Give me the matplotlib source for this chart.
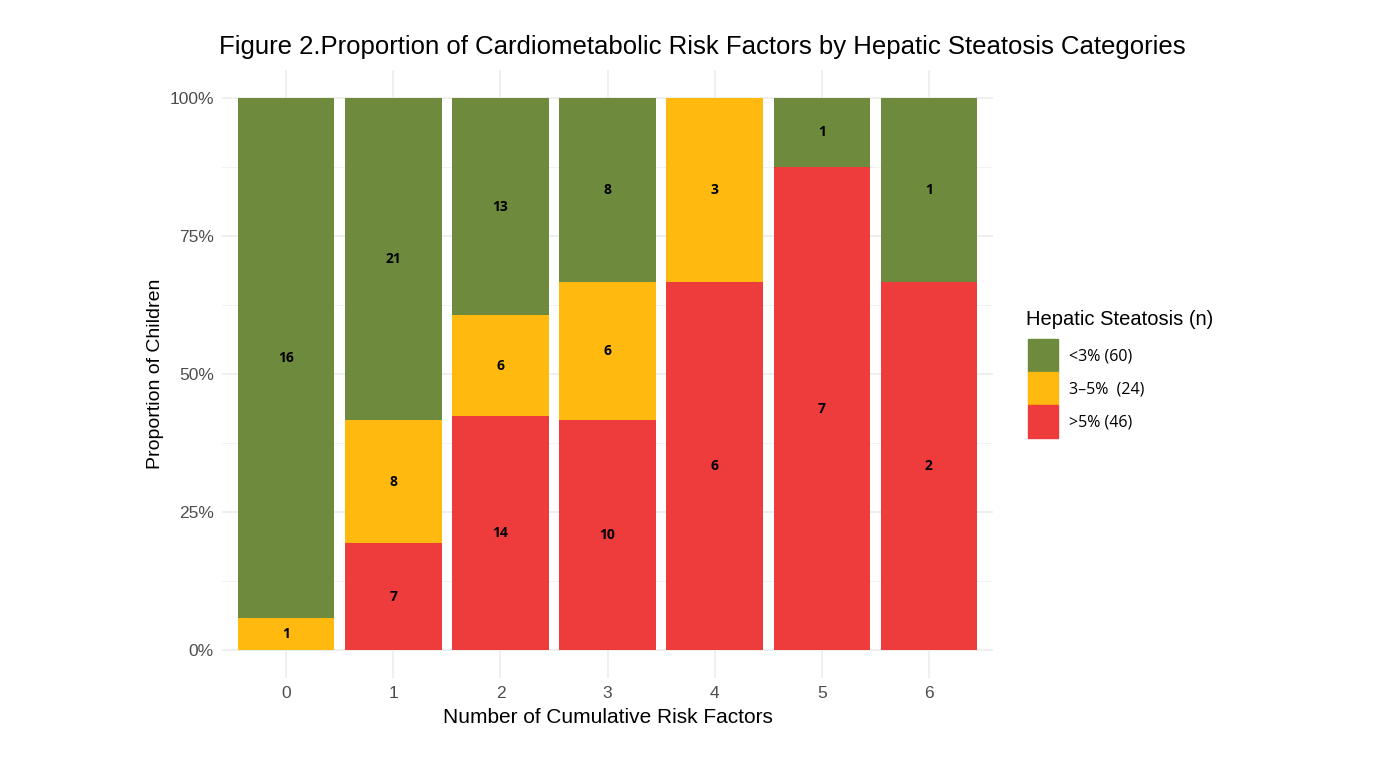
import numpy as np
import matplotlib.pyplot as plt
from matplotlib.patches import Patch
from matplotlib.ticker import MultipleLocator, FuncFormatter

# counts per number of cumulative risk factors
risk_factors = ["0", "1", "2", "3", "4", "5", "6"]
low = [16, 21, 13, 8, 0, 1, 1]      # <3%
mid = [1, 8, 6, 6, 3, 0, 0]         # 3-5%
high = [0, 7, 14, 10, 6, 7, 2]      # >5%

series = [high, mid, low]  # stacked bottom to top
colors = ["#EE3B3B", "#FFB90F", "#6E8B3D"]
legend_labels = ["<3% (60)", "3\u20135%  (24)", ">5% (46)"]

counts = np.array(series, dtype=float)
props = counts / counts.sum(axis=0)

fig = plt.figure(figsize=(13.75, 7.69), dpi=100)
ax = fig.add_axes([0.1615, 0.1183, 0.5607, 0.7906])

x = np.arange(len(risk_factors))
bottom = np.zeros(len(x))
for vals, cnt, col in zip(props, counts, colors):
    ax.bar(x, vals, 0.9, bottom=bottom, color=col, zorder=2)
    for xi, b, v, c in zip(x, bottom, vals, cnt):
        if c > 0:
            ax.text(xi, b + v / 2, f"{int(c)}", ha="center", va="center",
                    fontsize=10, fontweight="bold", family="Open Sans", zorder=3)
    bottom += vals

ax.set_xlim(-0.6, len(x) - 0.4)
ax.set_ylim(-0.05, 1.05)
ax.set_xticks(x)
ax.set_xticklabels(risk_factors)
ax.yaxis.set_major_locator(MultipleLocator(0.25))
ax.yaxis.set_minor_locator(MultipleLocator(0.125))
ax.yaxis.set_major_formatter(FuncFormatter(lambda v, p: f"{v * 100:.0f}%"))
ax.grid(which="major", color="#EBEBEB", linewidth=1.1, zorder=0)
ax.grid(which="minor", axis="y", color="#F2F2F2", linewidth=0.7, zorder=0)
ax.set_axisbelow(True)
for s in ax.spines.values():
    s.set_visible(False)
ax.tick_params(which="both", length=0, labelsize=12.5, labelcolor="#4D4D4D", pad=6)
for lbl in ax.get_xticklabels() + ax.get_yticklabels():
    lbl.set_family("Liberation Sans")

ax.set_xlabel("Number of Cumulative Risk Factors", fontsize=15,
              family="Liberation Sans", labelpad=5)
ax.set_ylabel("Proportion of Children", fontsize=14,
              family="Liberation Sans", labelpad=4)
fig.text(0.511, 0.939, "Figure 2.Proportion of Cardiometabolic Risk Factors by Hepatic Steatosis Categories",
         ha="center", va="center", fontsize=18.5, family="Liberation Sans")

# legend title drawn separately to control the gap above the keys
fig.text(0.7465, 0.584, "Hepatic Steatosis (n)", ha="left", va="center",
         fontsize=14.5, family="Liberation Sans")
handles = [Patch(color=c, label=l) for c, l in zip(colors[::-1], legend_labels)]
leg = fig.legend(handles=handles, loc="upper left", bbox_to_anchor=(0.7475, 0.559),
                 frameon=False, fontsize=11.5, handlelength=1.86, handleheight=2.8,
                 handletextpad=0.7, labelspacing=0.0, borderpad=0,
                 borderaxespad=0)
for t in leg.get_texts():
    t.set_family("Open Sans")

fig.savefig("out.png", dpi=100, facecolor="white")
